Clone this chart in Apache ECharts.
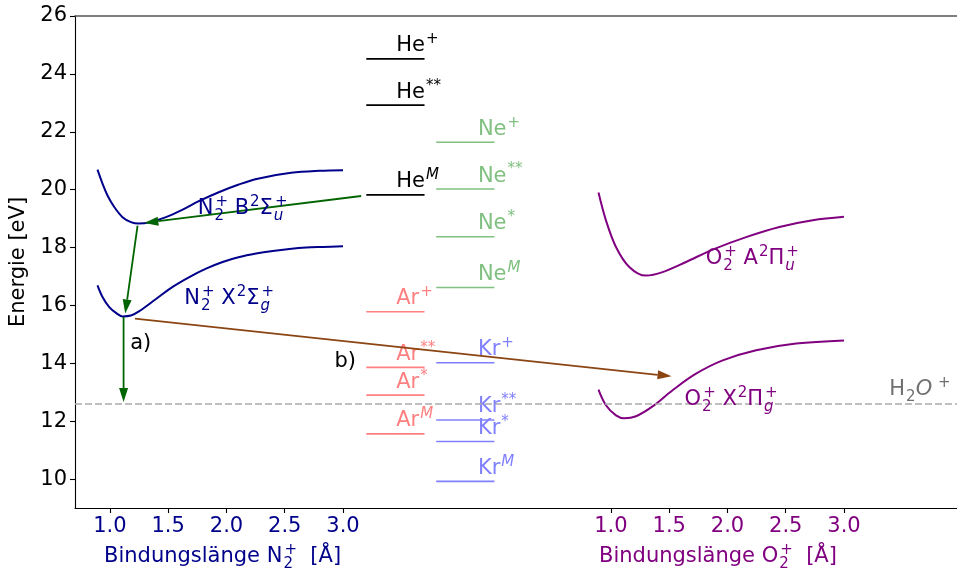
<!DOCTYPE html>
<html><head><meta charset="utf-8">
<script src="https://cdn.jsdelivr.net/npm/echarts@6/dist/echarts.min.js"></script>
<style>html,body{margin:0;padding:0;background:#fff}#c{width:957px;height:576px}</style>
</head><body><div id="c"></div>
<script>
// ---------- data ----------
const yTicks = [10, 12, 14, 16, 18, 20, 22, 24, 26];
const n2Ticks = [1.0, 1.5, 2.0, 2.5, 3.0];
const o2Ticks = [1.0, 1.5, 2.0, 2.5, 3.0];

// potential curves: bond length [Å] / energy [eV]
const n2B_r = [0.893, 0.936, 0.979, 1.037, 1.108, 1.180, 1.246, 1.338, 1.481, 1.624, 1.767, 1.939, 2.1, 2.268, 2.555, 2.8, 3.0];
const n2B_E = [20.69, 20.21, 19.80, 19.40, 19.05, 18.88, 18.83, 18.87, 19.05, 19.31, 19.61, 19.92, 20.17, 20.38, 20.58, 20.65, 20.67];
const n2X_r = [0.893, 0.936, 0.994, 1.052, 1.108, 1.180, 1.252, 1.395, 1.538, 1.681, 1.825, 1.967, 2.111, 2.254, 2.397, 2.540, 2.684, 2.826, 3.0];
const n2X_E = [16.69, 16.29, 15.94, 15.74, 15.62, 15.65, 15.80, 16.22, 16.64, 16.98, 17.27, 17.50, 17.67, 17.79, 17.88, 17.95, 18.00, 18.02, 18.04];
const o2A_r = [0.893, 0.957, 1.043, 1.157, 1.30, 1.443, 1.644, 1.873, 2.16, 2.446, 2.732, 3.0];
const o2A_E = [19.90, 18.94, 18.02, 17.33, 17.03, 17.15, 17.50, 17.93, 18.36, 18.71, 18.94, 19.06];
const o2X_r = [0.893, 0.957, 1.043, 1.114, 1.215, 1.357, 1.529, 1.73, 1.959, 2.246, 2.589, 3.0];
const o2X_E = [13.09, 12.55, 12.20, 12.10, 12.17, 12.51, 13.07, 13.64, 14.10, 14.45, 14.68, 14.79];

// rare gas levels [eV] and their superscripts
const heLevels = [24.52, 22.92, 19.82];
const neLevels = [21.64, 20.02, 18.37, 16.62];
const arLevels = [15.78, 13.86, 12.90, 11.56];
const krLevels = [14.02, 12.04, 11.30, 9.92];
const levelTags = ['+', '**', '*', 'M'];
const heTags = ['+', '**', 'M'];
const h2oLevel = 12.59;

// arrows (N2 axis coordinates)
const arrowFrom = [[3.156, 19.78], [1.237, 18.76], [1.117, 15.60], [1.215, 15.54]];
const arrowTo   = [[1.295, 18.85], [1.131, 15.72], [1.117, 12.66], [5.82, 13.55]];

// ---------- layout / style ----------
const FONT = 'DejaVu Sans';
const FS = 21;
const X_MIN = 0.7, X_MAX = 8.27, O2_SHIFT = 4.3;
const C_N2 = '#00008b', C_O2 = '#800080';
const C_HE = '#000000', C_NE = '#80c080', C_AR = '#ff8080', C_KR = '#8080ff';
const C_GREEN = '#006400', C_BROWN = '#8b4513';

function rich(color, fs) {
  fs = fs || FS;
  const s = Math.round(fs * 0.7);
  const b = {fontFamily: FONT, color: color, fill: color};
  return {
    m: Object.assign({fontSize: fs, lineHeight: 32, verticalAlign: 'middle'}, b),
    mi: Object.assign({fontSize: fs, lineHeight: 32, fontStyle: 'italic', verticalAlign: 'middle'}, b),
    sp: Object.assign({fontSize: s, verticalAlign: 'top', padding: [2, 0, 0, 1]}, b),
    spi: Object.assign({fontSize: s, fontStyle: 'italic', verticalAlign: 'top', padding: [2, 0, 0, 1]}, b),
    sb: Object.assign({fontSize: s, verticalAlign: 'bottom', padding: [0, 0, 1, 1]}, b),
    sbz: Object.assign({fontSize: s, verticalAlign: 'bottom', padding: [0, 0, 1, 1], width: 0.01, align: 'left'}, b),
    sbiz: Object.assign({fontSize: s, fontStyle: 'italic', verticalAlign: 'bottom', padding: [0, 0, 1, 1], width: 0.01, align: 'left'}, b)
  };
}
function tagText(main, tag) {
  return tag === 'M' ? '{m|' + main + '}{spi|M}' : '{m|' + main + '}{sp|' + tag + '}';
}

function curveData(r, E) { return r.map((v, i) => [v, E[i]]); }

function levelSeries(name, levels, tags, x1, x2, labelX, color) {
  return {
    type: 'custom', name: name, xAxisIndex: 0, yAxisIndex: 0, silent: true,
    data: levels.map((e, i) => [x1, x2, e, labelX, i]),
    encode: {x: [0, 1], y: 2},
    renderItem: function (params, api) {
      const p1 = api.coord([api.value(0), api.value(2)]);
      const p2 = api.coord([api.value(1), api.value(2)]);
      const pl = api.coord([api.value(3), api.value(2)]);
      const i = api.value(4);
      return {
        type: 'group',
        children: [
          {type: 'line', shape: {x1: p1[0], y1: p1[1], x2: p2[0], y2: p2[1]}, style: {stroke: color, lineWidth: 1.6}},
          {type: 'text', x: pl[0], y: p1[1] + 3, style: {text: tagText(name, tags[i]), rich: rich(color), fill: color, align: 'left', verticalAlign: 'bottom'}}
        ]
      };
    }
  };
}

// annotations (anchor in data coords, left/bottom aligned)
const annots = [
  {ax: 0, x: 1.753, y: 19.05, color: C_N2, text: '{m|N}{sbz|2}{sp|+}{m| B}{sp|2}{m|Σ}{sbiz|u}{sp|+}'},
  {ax: 0, x: 1.638, y: 15.92, color: C_N2, text: '{m|N}{sbz|2}{sp|+}{m| X}{sp|2}{m|Σ}{sbiz|g}{sp|+}'},
  {ax: 1, x: 1.814, y: 17.31, color: C_O2, text: '{m|O}{sbz|2}{sp|+}{m| A}{sp|2}{m|Π}{sbiz|u}{sp|+}'},
  {ax: 1, x: 1.632, y: 12.43, color: C_O2, text: '{m|O}{sbz|2}{sp|+}{m| X}{sp|2}{m|Π}{sbiz|g}{sp|+}'},
  {ax: 0, x: 7.689, y: 12.78, color: '#707070', text: '{m|H}{sb|2}{mi|O}{sp| +}'},
  {ax: 0, x: 1.174, y: 14.37, color: '#000000', text: '{m|a)}'},
  {ax: 0, x: 2.927, y: 13.76, color: '#000000', text: '{m|b)}'}
];
function annotSeries(axIdx) {
  const list = annots.filter(a => a.ax === axIdx);
  return {
    type: 'custom', xAxisIndex: axIdx, yAxisIndex: 0, silent: true, z: 5,
    data: list.map((a, i) => [a.x, a.y, i]),
    encode: {x: 0, y: 1},
    renderItem: function (params, api) {
      const a = list[api.value(2)];
      const p = api.coord([api.value(0), api.value(1)]);
      return {type: 'text', x: p[0], y: p[1] + 7, style: {text: a.text, rich: rich(a.color), fill: a.color, align: 'left', verticalAlign: 'bottom'}};
    }
  };
}

const arrowColors = [C_GREEN, C_GREEN, C_GREEN, C_BROWN];
const arrowSeries = {
  type: 'custom', xAxisIndex: 0, yAxisIndex: 0, silent: true, z: 4,
  data: arrowFrom.map((f, i) => [f[0], f[1], arrowTo[i][0], arrowTo[i][1], i]),
  encode: {x: [0, 2], y: [1, 3]},
  renderItem: function (params, api) {
    const a = api.coord([api.value(0), api.value(1)]);
    const b = api.coord([api.value(2), api.value(3)]);
    const col = arrowColors[api.value(4)];
    const dx = b[0] - a[0], dy = b[1] - a[1];
    const L = Math.sqrt(dx * dx + dy * dy), ux = dx / L, uy = dy / L;
    const hl = 14, hw = 4.5;
    const bx = b[0] - ux * hl, by = b[1] - uy * hl;
    return {
      type: 'group',
      children: [
        {type: 'line', shape: {x1: a[0], y1: a[1], x2: bx, y2: by}, style: {stroke: col, lineWidth: 1.8}},
        {type: 'polygon', shape: {points: [[b[0], b[1]], [bx - uy * hw, by + ux * hw], [bx + uy * hw, by - ux * hw]]}, style: {fill: col}}
      ]
    };
  }
};

const chart = echarts.init(document.getElementById('c'), null, {renderer: 'canvas'});
const tickFmt = v => v.toFixed(1);
const curveStyle = c => ({color: c, width: 2});
const option = {
  animation: false,
  backgroundColor: '#fff',
  grid: {left: 75, right: 0, top: 16, bottom: 68, containLabel: false},
  xAxis: [
    {type: 'value', position: 'bottom', min: X_MIN, max: X_MAX,
     axisLine: {show: true, onZero: false, lineStyle: {color: '#000', width: 1.1}},
     axisTick: {show: true, customValues: n2Ticks, length: 5, lineStyle: {color: '#000', width: 1.1}},
     axisLabel: {show: true, customValues: n2Ticks, formatter: tickFmt, color: C_N2, fontSize: FS, fontFamily: FONT, margin: 8},
     splitLine: {show: false}},
    {type: 'value', position: 'bottom', min: X_MIN - O2_SHIFT, max: X_MAX - O2_SHIFT,
     axisLine: {show: false, onZero: false},
     axisTick: {show: true, customValues: o2Ticks, length: 5, lineStyle: {color: '#000', width: 1.1}},
     axisLabel: {show: true, customValues: o2Ticks, formatter: tickFmt, color: C_O2, fontSize: FS, fontFamily: FONT, margin: 8},
     splitLine: {show: false}},
    {type: 'value', position: 'top', min: X_MIN, max: X_MAX,
     axisLine: {show: true, onZero: false, lineStyle: {color: '#555', width: 1.5}},
     axisTick: {show: false}, axisLabel: {show: false}, splitLine: {show: false}}
  ],
  yAxis: [
    {type: 'value', min: 9, max: 26,
     name: 'Energie [eV]', nameLocation: 'middle', nameGap: 44,
     nameTextStyle: {fontSize: FS, fontFamily: FONT, color: '#000'},
     axisLine: {show: true, onZero: false, lineStyle: {color: '#000', width: 1.1}},
     axisTick: {show: true, customValues: yTicks, length: 5, lineStyle: {color: '#000', width: 1.1}},
     axisLabel: {show: true, customValues: yTicks, color: '#000', fontSize: FS, fontFamily: FONT, margin: 8},
     splitLine: {show: false}}
  ],
  graphic: [
    {type: 'text', left: 104, top: 543, style: {text: '{m|Bindungslänge N}{sbz|2}{sp|+}{m|  [Å]}', rich: rich(C_N2), fill: C_N2}},
    {type: 'text', left: 599, top: 543, style: {text: '{m|Bindungslänge O}{sbz|2}{sp|+}{m|  [Å]}', rich: rich(C_O2), fill: C_O2}}
  ],
  series: [
    {type: 'line', name: 'N2B', xAxisIndex: 0, data: curveData(n2B_r, n2B_E), smooth: 0.35, showSymbol: false, lineStyle: curveStyle(C_N2), silent: true},
    {type: 'line', name: 'N2X', xAxisIndex: 0, data: curveData(n2X_r, n2X_E), smooth: 0.35, showSymbol: false, lineStyle: curveStyle(C_N2), silent: true},
    {type: 'line', name: 'O2A', xAxisIndex: 1, data: curveData(o2A_r, o2A_E), smooth: 0.35, showSymbol: false, lineStyle: curveStyle(C_O2), silent: true},
    {type: 'line', name: 'O2X', xAxisIndex: 1, data: curveData(o2X_r, o2X_E), smooth: 0.35, showSymbol: false, lineStyle: curveStyle(C_O2), silent: true},
    {type: 'line', name: 'H2O', xAxisIndex: 0, data: [[X_MIN, h2oLevel], [X_MAX, h2oLevel]], showSymbol: false, silent: true,
     lineStyle: {color: '#aaaaaa', width: 1.5, type: [7, 3]}},
    levelSeries('He', heLevels, heTags, 3.2, 3.7, 3.457, C_HE),
    levelSeries('Ne', neLevels, levelTags, 3.8, 4.3, 4.158, C_NE),
    levelSeries('Ar', arLevels, levelTags, 3.2, 3.7, 3.457, C_AR),
    levelSeries('Kr', krLevels, levelTags, 3.8, 4.3, 4.158, C_KR),
    arrowSeries,
    annotSeries(0),
    annotSeries(1)
  ]
};
chart.setOption(option);
</script>
</body></html>
